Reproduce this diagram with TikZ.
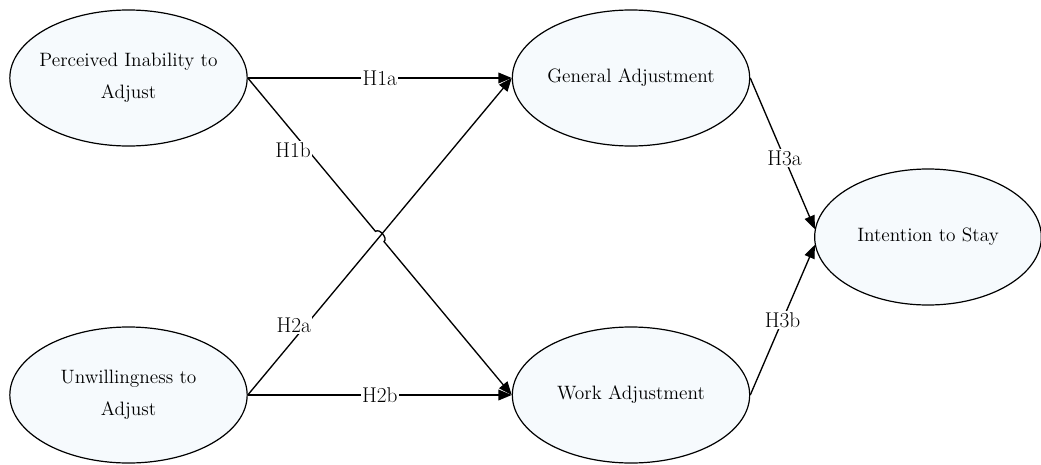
\documentclass[tikz,border=0pt]{standalone}
\usetikzlibrary{shapes.geometric,arrows.meta,calc,intersections}
\definecolor{ellfill}{RGB}{246,250,253}
\begin{document}
\begin{tikzpicture}[x=0.75pt,y=-0.75pt,
  construct/.style={ellipse, draw, line width=0.9pt, fill=ellfill,
    minimum width=178pt, minimum height=102pt, inner xsep=-10pt, inner ysep=0pt,
    align=center, font=\fontsize{14.5}{24}\selectfont},
  link/.style={line width=1pt, -{Triangle[length=10pt,width=8pt]}},
  hyp/.style={fill=white, inner sep=1pt, font=\fontsize{16}{18}\selectfont}]
\useasboundingbox (0,0) rectangle (1041,464);
\node[construct] (PI) at (128.5,78) {Perceived Inability to\\Adjust};
\node[construct] (UA) at (128.5,395) {Unwillingness to\\Adjust};
\node[construct] (GA) at (631,78) {General Adjustment};
\node[construct] (WA) at (631,395) {Work Adjustment};
\node[construct, minimum width=170pt] (IS) at (928,237) {Intention to Stay};
\path[name path=l1] (PI.east) -- (WA.west);
\path[name path=l2] (UA.east) -- (GA.west);
\path[name intersections={of=l1 and l2, by=X}];
\draw[link] (PI.east) -- node[hyp]{H1a} (GA.west);
\draw[link] (PI.east) -- node[hyp, pos=0.47, xshift=-11pt]{H1b} ($(X)!5pt!(PI.east)$)
  to[bend left=90] ($(X)!5pt!(WA.west)$) -- (WA.west);
\draw[link] (UA.east) -- node[hyp, pos=0.22, xshift=-9pt]{H2a} (GA.west);
\draw[link] (UA.east) -- node[hyp]{H2b} (WA.west);
\draw[link] (GA.east) -- node[hyp, pos=0.53]{H3a} (IS.176);
\draw[link] (WA.east) -- node[hyp, pos=0.5]{H3b} (IS.184);
\end{tikzpicture}
\end{document}
